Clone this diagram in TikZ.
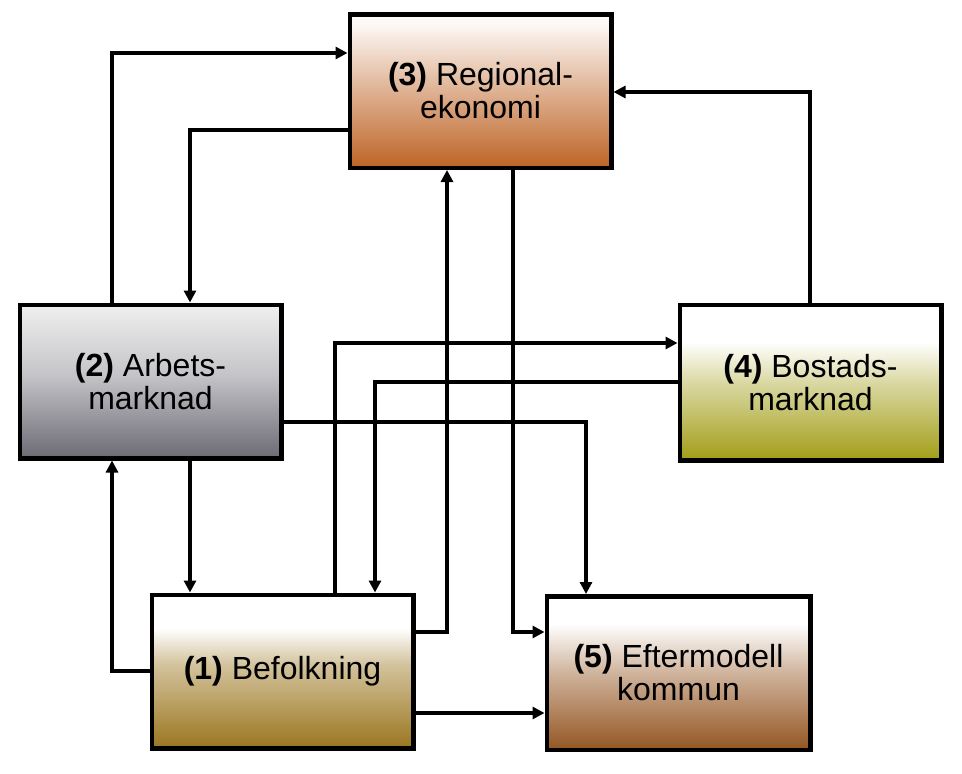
\documentclass[tikz,border=0pt]{standalone}
\usepackage{fontspec}
\setmainfont{Liberation Sans}
\usetikzlibrary{arrows.meta}
\definecolor{colA}{RGB}{155,118,32}
\definecolor{colB}{RGB}{108,106,116}
\definecolor{colC}{RGB}{190,100,38}
\definecolor{colD}{RGB}{162,158,24}
\definecolor{colE}{RGB}{148,86,34}
\colorlet{colAm}{colA!45!white}
\colorlet{colBm}{colB!40!white}
\colorlet{colCm}{colC!50!white}
\colorlet{colDm}{colD!40!white}
\colorlet{colEm}{colE!45!white}
\colorlet{colBt}{black!6}
\colorlet{colCt}{white!96!colC}
\pgfdeclareverticalshading{shA}{100bp}{color(0bp)=(colA); color(25bp)=(colA); color(52bp)=(colAm); color(64bp)=(white); color(100bp)=(white)}
\pgfdeclareverticalshading{shB}{100bp}{color(0bp)=(colB); color(25bp)=(colB); color(52bp)=(colBm); color(75bp)=(colBt); color(100bp)=(colBt)}
\pgfdeclareverticalshading{shC}{100bp}{color(0bp)=(colC); color(25bp)=(colC); color(50bp)=(colCm); color(72bp)=(colCt); color(100bp)=(colCt)}
\pgfdeclareverticalshading{shD}{100bp}{color(0bp)=(colD); color(25bp)=(colD); color(50bp)=(colDm); color(63bp)=(white); color(100bp)=(white)}
\pgfdeclareverticalshading{shE}{100bp}{color(0bp)=(colE); color(25bp)=(colE); color(50bp)=(colEm); color(66bp)=(white); color(100bp)=(white)}
\tikzset{
  box/.style={draw=black, line width=4.5pt, minimum width=261.5pt, minimum height=153.5pt,
    align=center, inner sep=0pt, font=\fontsize{32}{33}\selectfont, shade},
  arr/.style={line width=3.3pt, -{Triangle[length=12pt,width=12pt]}},
}
\begin{document}
\begin{tikzpicture}[x=1pt,y=-1pt]
\useasboundingbox[fill=white] (0,0) rectangle (962,774);
\node[box, shading=shC] (b3) at (480.5,91) {{\bfseries (3)} Regional-\\ekonomi};
\node[box, shading=shB] (b2) at (150.5,381.5) {{\bfseries (2)} Arbets-\\marknad};
\node[box, shading=shD, minimum height=155.5pt] (b4) at (810.5,382.5) {{\bfseries (4)} Bostads-\\marknad};
\node[box, shading=shA] (b1) at (282.5,671.5) {{\bfseries (1)} Befolkning};
\node[box, shading=shE, minimum width=263.5pt] (b5) at (678.5,673) {{\bfseries (5)} Eftermodell\\kommun};
\coordinate (c1) at (112,53);
\coordinate (c2) at (190,130);
\coordinate (c4) at (112,671);
\coordinate (c5) at (447,632);
\coordinate (c6) at (335,343);
\coordinate (c7) at (375,382);
\coordinate (c8) at (586,422);
\coordinate (c9) at (513,632);
\coordinate (c10) at (480,713);
\coordinate (c11) at (810,92);
\draw[arr] (b2.north -| c1) |- (b3.west |- c1);
\draw[arr] (b3.west |- c2) -| (b2.north -| c2);
\draw[arr] (b2.south -| c2) -- (b1.north -| c2);
\draw[arr] (b1.west |- c4) -| (b2.south -| c4);
\draw[arr] (b1.east |- c5) -| (b3.south -| c5);
\draw[arr] (b1.north -| c6) |- (b4.west |- c6);
\draw[arr] (b4.west |- c7) -| (b1.north -| c7);
\draw[arr] (b2.east |- c8) -| (b5.north -| c8);
\draw[arr] (b3.south -| c9) |- (b5.west |- c9);
\draw[arr] (b1.east |- c10) -- (b5.west |- c10);
\draw[arr] (b4.north -| c11) |- (b3.east |- c11);
\end{tikzpicture}
\end{document}
